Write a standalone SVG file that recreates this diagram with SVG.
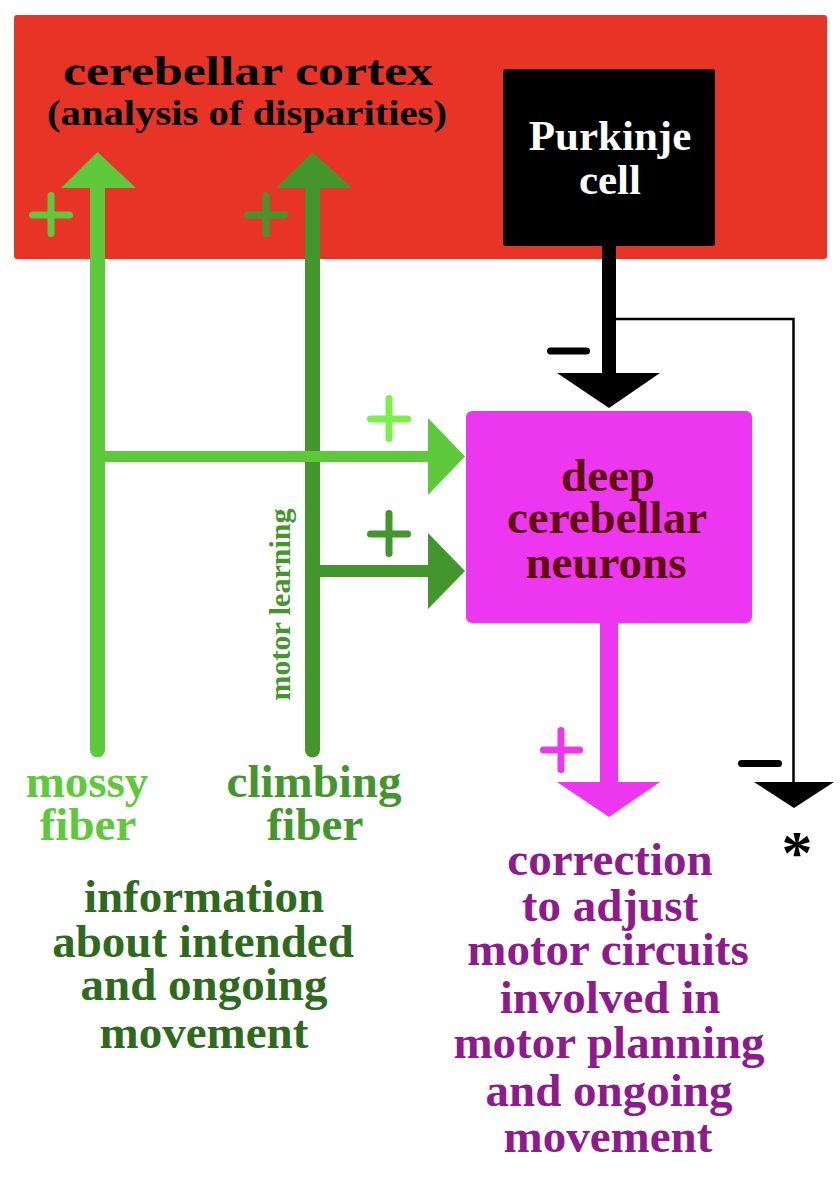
<svg xmlns="http://www.w3.org/2000/svg" width="840" height="1183" viewBox="0 0 840 1183">
<style>
text{font-family:"Liberation Serif","Times New Roman",serif;font-weight:bold;text-anchor:middle}
.big{font-size:47px}
.sign{fill:none;stroke-width:7;stroke-linecap:round}
.lg{fill:#5DC93B}.dg{fill:#43962C}
</style>
<rect width="840" height="1183" fill="#ffffff"/>
<g id="cortex">
<rect x="14" y="15" width="813" height="244" rx="3" fill="#E83426"/>
<text x="248" y="85" font-size="42" textLength="370" lengthAdjust="spacingAndGlyphs">cerebellar cortex</text>
<text x="247" y="125" font-size="36" textLength="400" lengthAdjust="spacingAndGlyphs">(analysis of disparities)</text>
</g>
<g id="connectors">
<g id="climbing-fiber">
<line x1="312.5" y1="186" x2="312.5" y2="750" stroke="#43962C" stroke-width="15" stroke-linecap="round"/>
<polygon points="276,188 352,188 312.5,152" fill="#43962C"/>
<line x1="312" y1="571" x2="430" y2="571" stroke="#43962C" stroke-width="12"/>
<polygon points="428,533 428,609 465,571" fill="#43962C"/>
</g>
<g id="mossy-fiber">
<line x1="97.5" y1="186" x2="97.5" y2="750" stroke="#5DC93B" stroke-width="15" stroke-linecap="round"/>
<polygon points="61,188 136,188 97.5,152" fill="#5DC93B"/>
<line x1="97" y1="456.5" x2="430" y2="456.5" stroke="#5DC93B" stroke-width="11"/>
<polygon points="428,418 428,495 465,456.5" fill="#5DC93B"/>
</g>
<g id="purkinje-output">
<rect x="602" y="240" width="14" height="135"/>
<polygon points="557,373 660,373 609,408"/>
<polyline points="616,319 793.5,319 793.5,784" fill="none" stroke="#000" stroke-width="2.5"/>
<polygon points="754,782 834,782 794,808"/>
</g>
<g id="dcn-output">
<rect x="600" y="620" width="18" height="164" fill="#EC36F0"/>
<polygon points="557,782 660,782 609,817" fill="#EC36F0"/>
</g>
<g id="signs">
<path class="sign" stroke="#5DC93B" d="M32.5,215H69.5M51,195.5V233.5"/>
<path class="sign" stroke="#43962C" d="M247.5,215H284.5M266,195.5V233.5"/>
<path class="sign" stroke="#7CF04A" d="M370.5,419H407.5M389,398.5V438.5"/>
<path class="sign" stroke="#43962C" d="M370.5,534H407.5M389,513.5V553.5"/>
<path class="sign" stroke="#000" d="M550.5,351H586.5"/>
<path class="sign" stroke="#EC36F0" d="M543.5,750H579.5M561,730.5V769.5"/>
<path class="sign" stroke="#000" d="M741.5,763.5H778.5"/>
</g>
</g>
<g id="purkinje">
<rect x="503" y="69" width="212" height="177" rx="3" fill="#000"/>
<text x="610" y="150" font-size="43" fill="#fff">Purkinje</text>
<text x="610" y="194" font-size="43" fill="#fff">cell</text>
</g>
<g id="dcn">
<rect x="466" y="411" width="286" height="212" rx="6" fill="#EC36F0"/>
<text class="big" x="608" y="491" fill="#5E0F0A">deep</text>
<text class="big" x="607" y="533" fill="#5E0F0A">cerebellar</text>
<text class="big" x="606" y="578" fill="#5E0F0A">neurons</text>
</g>
<g id="motor-learning">
<text x="290" y="604.5" font-size="30" fill="#43962C" transform="rotate(-90 290 604.5)">motor learning</text>
</g>
<g id="mossy-label">
<text class="big lg" x="87" y="797">mossy</text>
<text class="big lg" x="88" y="840">fiber</text>
</g>
<g id="climbing-label">
<text class="big dg" x="314" y="797">climbing</text>
<text class="big dg" x="315" y="840">fiber</text>
</g>
<g id="info-label" fill="#2D6A1B">
<text class="big" x="204" y="912">information</text>
<text class="big" x="203" y="957">about intended</text>
<text class="big" x="204" y="1000">and ongoing</text>
<text class="big" x="204" y="1048">movement</text>
</g>
<g id="correction-label" fill="#8E1A8E">
<text class="big" x="610" y="875">correction</text>
<text class="big" x="610" y="921">to adjust</text>
<text class="big" x="608" y="965">motor circuits</text>
<text class="big" x="610" y="1013">involved in</text>
<text class="big" x="609" y="1058">motor planning</text>
<text class="big" x="609" y="1106">and ongoing</text>
<text class="big" x="608" y="1152">movement</text>
</g>
<g id="asterisk">
<text x="797" y="873" font-size="62">*</text>
</g>
</svg>
